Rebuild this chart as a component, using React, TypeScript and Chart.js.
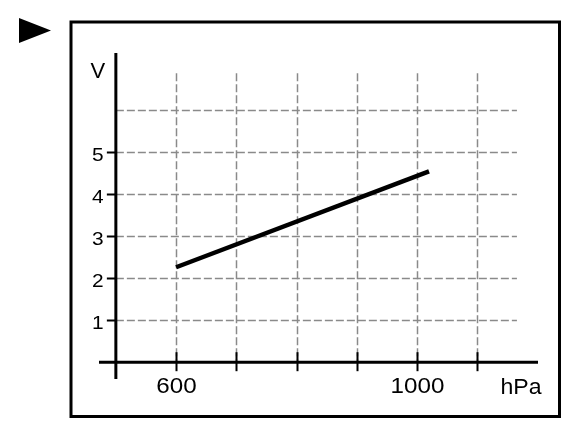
import React, { useEffect, useRef } from "react";
import { Chart, registerables } from "chart.js";

Chart.register(...registerables);

// Data
const pressure = [600, 1020];
const voltage = [2.26, 4.54];
const xGridValues = [600, 700, 800, 900, 1000, 1100];
const yGridValues = [1, 2, 3, 4, 5, 6];
const yTickValues = [1, 2, 3, 4, 5];
const yTickLabels = ["1", "2", "3", "4", "5"];
const xTickValues = [600, 700, 800, 900, 1000, 1100];
const xTickLabels = ["600", "", "", "", "1000", ""];
const xAxisTitle = "hPa";
const yAxisTitle = "V";

const X_MIN = 472;
const X_MAX = 1201;
const Y_MIN = -0.4;
const Y_MAX = 7.36;
const X_ORIGIN = 500;
const Y_ORIGIN = 0;
const GRID_X_END = 1166;
const GRID_Y_TOP = 6.88;

const FONT = '"Liberation Sans", Arial, sans-serif';

function stretchText(ctx: any, text: string, x: number, y: number, sx: number) {
  ctx.save();
  ctx.translate(x, y);
  ctx.scale(sx, 1);
  ctx.fillText(text, 0, 0);
  ctx.restore();
}

const decorPlugin = {
  id: "decor",
  beforeDatasetsDraw(chart: any) {
    const ctx = chart.ctx;
    const xs = chart.scales.x;
    const ys = chart.scales.y;
    ctx.save();
    ctx.strokeStyle = "#8a8a8a";
    ctx.lineWidth = 1.5;
    ctx.setLineDash([8, 3]);
    const x0 = xs.getPixelForValue(X_ORIGIN);
    const xEnd = xs.getPixelForValue(GRID_X_END);
    for (const v of yGridValues) {
      const y = Math.round(ys.getPixelForValue(v)) + 0.5;
      ctx.beginPath();
      ctx.moveTo(x0, y);
      ctx.lineTo(xEnd, y);
      ctx.stroke();
    }
    const y0 = ys.getPixelForValue(Y_ORIGIN);
    const yTop = ys.getPixelForValue(GRID_Y_TOP);
    for (const v of xGridValues) {
      const x = Math.round(xs.getPixelForValue(v)) + 0.5;
      ctx.beginPath();
      ctx.moveTo(x, yTop);
      ctx.lineTo(x, y0);
      ctx.stroke();
    }
    ctx.restore();
  },
  afterDatasetsDraw(chart: any) {
    const ctx = chart.ctx;
    const xs = chart.scales.x;
    const ys = chart.scales.y;
    const area = chart.chartArea;
    ctx.save();
    ctx.setLineDash([]);
    ctx.strokeStyle = "#000";
    ctx.fillStyle = "#000";

    // frame
    ctx.lineWidth = 3;
    ctx.strokeRect(71, 22, 488.5, 394.5);

    // marker triangle
    ctx.beginPath();
    ctx.moveTo(19, 18);
    ctx.lineTo(51, 30.5);
    ctx.lineTo(19, 43);
    ctx.closePath();
    ctx.fill();

    const x0 = xs.getPixelForValue(X_ORIGIN);
    const y0 = ys.getPixelForValue(Y_ORIGIN);

    // axes
    ctx.lineWidth = 3;
    ctx.beginPath();
    ctx.moveTo(x0, area.top);
    ctx.lineTo(x0, area.bottom);
    ctx.stroke();
    ctx.beginPath();
    ctx.moveTo(area.left, y0);
    ctx.lineTo(area.right, y0);
    ctx.stroke();

    // y ticks + labels
    ctx.lineWidth = 2;
    ctx.font = `19px ${FONT}`;
    ctx.textAlign = "center";
    ctx.textBaseline = "alphabetic";
    yTickValues.forEach((v, i) => {
      const y = Math.round(ys.getPixelForValue(v)) + 0.5;
      ctx.beginPath();
      ctx.moveTo(x0 - 9, y);
      ctx.lineTo(x0, y);
      ctx.stroke();
      stretchText(ctx, yTickLabels[i], x0 - 18, y + 8, 1.1);
    });

    // x ticks + labels
    ctx.font = `22px ${FONT}`;
    xTickValues.forEach((v, i) => {
      const x = Math.round(xs.getPixelForValue(v)) + 0.5;
      ctx.beginPath();
      ctx.moveTo(x, y0 - 10);
      ctx.lineTo(x, y0 + 9);
      ctx.stroke();
      if (xTickLabels[i]) stretchText(ctx, xTickLabels[i], x, y0 + 31, 1.1);
    });

    // axis titles
    stretchText(ctx, yAxisTitle, x0 - 18, area.top + 25, 1.0);
    stretchText(ctx, xAxisTitle, area.right - 17, y0 + 32, 1.05);
    ctx.restore();
  },
};

export default function App() {
  const ref = useRef<HTMLCanvasElement>(null);
  useEffect(() => {
    if (!ref.current) return;
    const chart = new Chart(ref.current, {
      type: "line",
      data: {
        datasets: [
          {
            data: pressure.map((p, i) => ({ x: p, y: voltage[i] })),
            borderColor: "#000",
            borderWidth: 4.5,
            pointRadius: 0,
            borderCapStyle: "butt",
            tension: 0,
          },
        ],
      },
      options: {
        responsive: false,
        animation: false,
        devicePixelRatio: 1,
        layout: { padding: { left: 99, right: 46, top: 53, bottom: 63 } },
        plugins: { legend: { display: false }, tooltip: { enabled: false } },
        scales: {
          x: { type: "linear", min: X_MIN, max: X_MAX, display: false },
          y: { type: "linear", min: Y_MIN, max: Y_MAX, display: false },
        },
      },
      plugins: [decorPlugin],
    });
    return () => chart.destroy();
  }, []);
  return (
    <div style={{ position: "fixed", left: 0, top: 0, width: 584, height: 442, background: "#fff" }}>
      <canvas ref={ref} width={584} height={442} style={{ display: "block" }} />
    </div>
  );
}
